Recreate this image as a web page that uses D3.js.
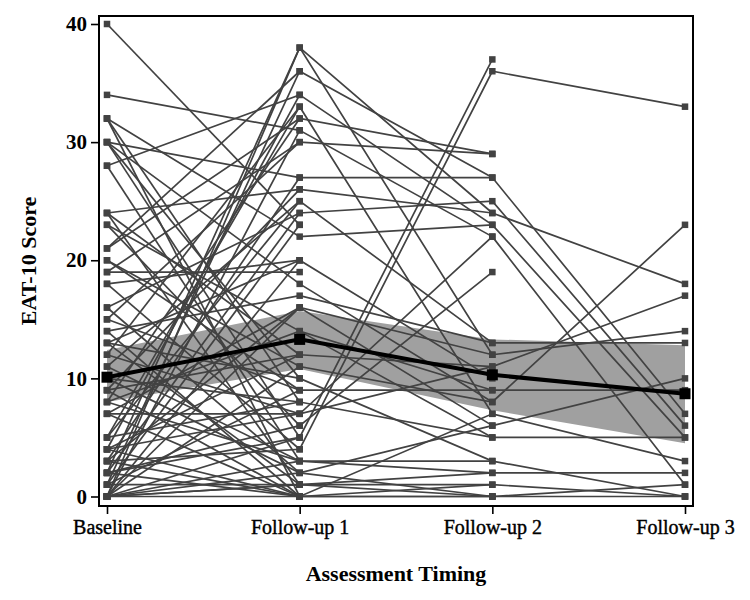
<!DOCTYPE html>
<html>
<head>
<meta charset="utf-8">
<script src="https://cdn.jsdelivr.net/npm/d3@7"></script>
<style>
	body { margin:0; background:#fff; }
	svg text { font-family:"Liberation Serif","Times New Roman",serif; fill:#000; }
</style>
</head>
<body>
<svg id="chart" width="750" height="600"></svg>
<script>

// --------------------------------
// data
// --------------------------------

var categories = ["Baseline", "Follow-up 1", "Follow-up 2", "Follow-up 3"];
var yTicks = [0, 10, 20, 30, 40];

// each subject: scores at the 4 timings (null = not assessed)
var subjects = [
	[3, 4, 36, 33],
	[20, 11, 8, 23],
	[24, 26, 24, 18],
	[9, 12, 11, 17],
	[7, 16, 12, 14],
	[14, 17, 13, 13],
	[10, 2, 6, 10],
	[8, 14, 9, 9],
	[30, 27, 27, 7],
	[16, 24, 25, 6],
	[5, 8, 5, 5],
	[28, 34, 23, 5],
	[2, 0, 7, 3],
	[0, 3, 2, 2],
	[4, 7, 22, 1],
	[1, 1, 0, 1],
	[0, 0, 0, 0],
	[0, 1, 1, 0],
	[13, 10, 3, 0],

	[0, 5, 37, null],
	[21, 32, 29, null],
	[19, 30, 29, null],
	[2, 6, 19, null],
	[18, 20, 10, null],
	[0, 38, 24, null],
	[2, 38, 12, null],
	[1, 36, 27, null],
	[32, 22, 23, null],
	[11, 25, 13, null],
	[15, 9, 9, null],
	[30, 18, 8, null],
	[5, 33, 7, null],
	[3, 16, 6, null],
	[23, 14, 5, null],
	[8, 3, 3, null],
	[0, 1, 2, null],
	[4, 0, 1, null],
	[9, 0, 0, null],
	[0, 2, 0, null],
	[12, 7, 11, null],
	[0, 31, 22, null],

	[40, 23, null, null],
	[34, 31, null, null],
	[32, 8, null, null],
	[32, 0, null, null],
	[30, 5, null, null],
	[30, 10, null, null],
	[24, 1, null, null],
	[23, 6, null, null],
	[21, 36, null, null],
	[20, 9, null, null],
	[19, 19, null, null],
	[18, 4, null, null],
	[16, 2, null, null],
	[15, 30, null, null],
	[14, 0, null, null],
	[13, 20, null, null],
	[12, 33, null, null],
	[11, 3, null, null],
	[10, 8, null, null],
	[9, 26, null, null],
	[8, 32, null, null],
	[7, 7, null, null],
	[5, 25, null, null],
	[4, 34, null, null],
	[3, 27, null, null],
	[2, 24, null, null],
	[1, 23, null, null],
	[0, 16, null, null],
	[0, 11, null, null],
	[1, 9, null, null],
	[2, 5, null, null],
	[3, 0, null, null],
	[0, 20, null, null],
	[4, 12, null, null],
	[7, 0, null, null],
	[28, 3, null, null],
	[24, 12, null, null],
	[13, 1, null, null]
];

// group mean and its confidence band
var meanValues = [10.1, 13.3, 10.3, 8.7];
var bandLow = [8.0, 10.8, 7.3, 4.5];
var bandHigh = [12.4, 15.7, 13.3, 12.8];

// --------------------------------
// layout
// --------------------------------

var plot = {left: 99, right: 693, top: 16, bottom: 506};

var svg = d3.select("#chart");

var x = d3.scalePoint()
	.domain(categories)
	.range([plot.left + 8, plot.right - 8]);

var y = d3.scaleLinear()
	.domain([0, 40])
	.range([496.5, 24]);

var szLineColor = "#424242";

// --------------------------------
// confidence band
// --------------------------------

var band = categories.map(function(c, i){ return {c: c, lo: bandLow[i], hi: bandHigh[i]}; });

svg.append("path")
	.datum(band)
	.attr("d", d3.area()
		.x(function(d){ return x(d.c); })
		.y0(function(d){ return y(d.lo); })
		.y1(function(d){ return y(d.hi); }))
	.attr("style", "fill:#a0a0a0;stroke:none");

// --------------------------------
// individual trajectories
// --------------------------------

var subjectLine = d3.line()
	.defined(function(d){ return d.v != null; })
	.x(function(d){ return x(d.c); })
	.y(function(d){ return y(d.v); });

var rows = subjects.map(function(s){
	return s.map(function(v, i){ return {c: categories[i], v: v}; });
});

svg.append("g").selectAll("path")
	.data(rows)
	.join("path")
	.attr("d", subjectLine)
	.attr("style", "fill:none;stroke:" + szLineColor + ";stroke-width:1.7");

var pts = [];
rows.forEach(function(r){
	r.forEach(function(d){ if (d.v != null) pts.push(d); });
});

var nMark = 6.5;
svg.append("g").selectAll("rect")
	.data(pts)
	.join("rect")
	.attr("x", function(d){ return x(d.c) - nMark/2; })
	.attr("y", function(d){ return y(d.v) - nMark/2; })
	.attr("width", nMark)
	.attr("height", nMark)
	.attr("fill", szLineColor);

// --------------------------------
// mean line
// --------------------------------

var means = categories.map(function(c, i){ return {c: c, v: meanValues[i]}; });

svg.append("path")
	.datum(means)
	.attr("d", d3.line()
		.x(function(d){ return x(d.c); })
		.y(function(d){ return y(d.v); }))
	.attr("style", "fill:none;stroke:#000;stroke-width:4");

var nMeanMark = 11;
svg.append("g").selectAll("rect")
	.data(means)
	.join("rect")
	.attr("x", function(d){ return x(d.c) - nMeanMark/2; })
	.attr("y", function(d){ return y(d.v) - nMeanMark/2; })
	.attr("width", nMeanMark)
	.attr("height", nMeanMark)
	.attr("fill", "#000");

// --------------------------------
// frame and axes
// --------------------------------

svg.append("rect")
	.attr("x", plot.left)
	.attr("y", plot.top)
	.attr("width", plot.right - plot.left)
	.attr("height", plot.bottom - plot.top)
	.attr("style", "fill:none;stroke:#000;stroke-width:2");

var yAxis = svg.append("g")
	.attr("transform", "translate(" + plot.left + ",0)")
	.call(d3.axisLeft(y).tickValues(yTicks).tickSize(8).tickPadding(4));
yAxis.select(".domain").remove();
yAxis.selectAll("line").attr("stroke", "#000").attr("stroke-width", 1.6);
yAxis.selectAll("text")
	.attr("style", "font-family:'Liberation Serif',serif;font-size:21px;font-weight:bold;fill:#000");

var xAxis = svg.append("g")
	.attr("transform", "translate(0," + plot.bottom + ")")
	.call(d3.axisBottom(x).tickSize(8).tickPadding(6));
xAxis.select(".domain").remove();
xAxis.selectAll("line").attr("stroke", "#000").attr("stroke-width", 1.6);
xAxis.selectAll("text")
	.attr("style", "font-family:'Liberation Serif',serif;font-size:20px;fill:#000;stroke:#000;stroke-width:0.4");

// axis titles
svg.append("text")
	.attr("x", (plot.left + plot.right) / 2)
	.attr("y", 581)
	.attr("text-anchor", "middle")
	.attr("style", "font-size:22px;font-weight:bold")
	.text("Assessment Timing");

svg.append("text")
	.attr("transform", "translate(36," + ((plot.top + plot.bottom) / 2) + ") rotate(-90)")
	.attr("text-anchor", "middle")
	.attr("style", "font-size:22px;font-weight:bold")
	.text("EAT-10 Score");

</script>
</body>
</html>
